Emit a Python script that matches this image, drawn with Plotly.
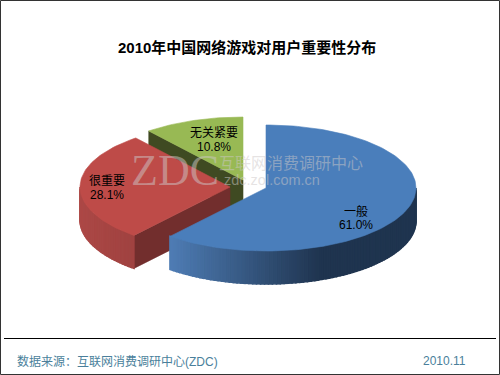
import math
import plotly.graph_objects as go

TITLE = "2010年中国网络游戏对用户重要性分布"
categories = ["一般", "很重要", "无关紧要"]
shares = [61.0, 28.1, 10.8]
SOURCE = "数据来源：互联网消费调研中心(ZDC)"
DATE = "2010.11"

# drawing styles (per slice, same order as categories)
centres = [(266, 188), (230, 187), (243, 180)]
tops = ["#4A7EBB", "#BE4B48", "#98B954"]
side_left = [(78, 124, 180), (172, 72, 70), (90, 110, 50)]
side_right = [(31, 52, 79), (120, 48, 46), (63, 74, 34)]
cuts = ["#1F344F", "#722E2D", "#3F4A22"]
label_pos = [(356, 218), (107, 188), (214, 140)]
A, B, D = 150, 63, 33
FONT = "Liberation Sans, Noto Sans CJK SC, sans-serif"

fig = go.Figure()


def pt(c, deg, drop=0):
    r = math.radians(deg)
    return c[0] + A * math.sin(r), c[1] - B * math.cos(r) + drop


def poly(pts, color, name, width=0.6):
    fig.add_trace(go.Scatter(
        x=[p[0] for p in pts] + [pts[0][0]], y=[p[1] for p in pts] + [pts[0][1]],
        mode="lines", fill="toself", fillcolor=color,
        line=dict(color=color, width=width), hoverinfo="text", text=name, showlegend=False))


total = sum(shares)
starts = []
a = 0.0
for s in shares:
    starts.append((a, a + 360 * s / total))
    a += 360 * s / total

# painted back to front: green, red, blue
for i in [2, 1, 0]:
    c = centres[i]
    a0, a1 = starts[i]
    name = f"{categories[i]} {shares[i]}%"
    # flat cut faces turned to the viewer
    if i == 2:
        poly([pt(c, a0), c, (c[0], c[1] + D), pt(c, a0, D)], cuts[i], name)
    if i == 1:
        poly([c, pt(c, a0), pt(c, a0, D), (c[0], c[1] + D)], cuts[i], name)
    # curved outer wall, front half only
    lo, hi = max(a0, 90), min(a1, 270)
    n = max(int((hi - lo) / 1.5), 0)
    for k in range(n):
        t0 = lo + (hi - lo) * k / n
        t1 = lo + (hi - lo) * (k + 1) / n
        xm = (pt(c, t0)[0] + pt(c, t1)[0]) / 2
        # shade runs with horizontal position
        if i == 0:
            f = min(max((xm - 170) / 150, 0), 1)
        else:
            f = min(max((xm - 80) / 100, 0), 1) * 0.45
        col = "rgb(%d,%d,%d)" % tuple(
            round(side_left[i][j] + (side_right[i][j] - side_left[i][j]) * f) for j in range(3))
        # wide enough that neighbouring strips close their seams
        poly([pt(c, t0), pt(c, t1), pt(c, t1, D), pt(c, t0, D)], col, name, width=1.5)
    # top face
    m = max(int((a1 - a0) / 1.5), 2)
    rim = [pt(c, a0 + (a1 - a0) * k / m) for k in range(m + 1)]
    poly([c] + rim, tops[i], name)

ann = []


def text(x, y, s, size, color="#000000", bold=False, anchor="center", family=FONT):
    ann.append(dict(x=x, y=y, xref="x", yref="y", text=f"<b>{s}</b>" if bold else s,
                    showarrow=False, xanchor=anchor, yanchor="middle",
                    font=dict(family=family, size=size, color=color)))


# watermark
WM = "rgba(205,200,200,0.5)"
text(175, 170, "ZDC", 44, WM, family="Liberation Serif, serif")
text(291, 163, "互联网消费调研中心", 16, WM)
text(272, 180, "zdc.zol.com.cn", 14.5, WM)

text(247, 47, TITLE, 15, bold=True)
for (x, y), cat, s in zip(label_pos, categories, shares):
    text(x, y - 7, cat, 12)
    text(x, y + 7, f"{s:.1f}%", 12)
text(15, 361, SOURCE, 12, "#4A7F9B", anchor="left")
text(444, 361, DATE, 12, "#4A7F9B")

fig.update_layout(
    width=500, height=375, margin=dict(l=0, r=0, t=0, b=0),
    paper_bgcolor="white", plot_bgcolor="white", showlegend=False,
    xaxis=dict(range=[0, 500], visible=False, fixedrange=True),
    yaxis=dict(range=[375, 0], visible=False, fixedrange=True),
    annotations=ann,
    shapes=[
        dict(type="line", xref="x", yref="y", x0=4, x1=496, y0=338.5, y1=338.5,
             line=dict(color="#000000", width=1)),
        dict(type="rect", xref="x", yref="y", x0=0.5, x1=499.5, y0=0.5, y1=374.5,
             line=dict(color="#333333", width=1)),
    ],
)
fig.write_html("out.html", config=dict(displayModeBar=False),
               post_script="document.body.style.margin='0';document.body.style.overflow='hidden';")
